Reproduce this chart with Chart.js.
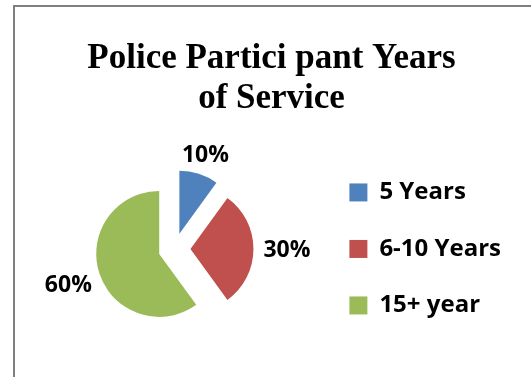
<!DOCTYPE html>
<html>
<head>
<meta charset="utf-8">
<script src="https://cdn.jsdelivr.net/npm/chart.js@4.4.0/dist/chart.umd.min.js"></script>
<style>
  html, body { margin: 0; padding: 0; background: #fff; overflow: hidden; }
  #frame {
    position: absolute; left: 13px; top: 5px; width: 530px; height: 380px;
    border-top: 2px solid #7f7f7f; border-left: 2px solid #7f7f7f;
  }
  #wrap { position: absolute; left: 0; top: 0; width: 516px; height: 370px; }
</style>
</head>
<body>
<div id="frame"><div id="wrap"><canvas id="pie-chart"></canvas></div></div>
<script>
let labels = ["5 Years", "6-10 Years", "15+ year"];
let data = [10, 30, 60];
let bgColors = ["#4F81BD", "#C0504D", "#9BBB59"];
let titleLines = ["Police Partici pant Years", "of Service"];

// pull every slice out from the centre along its middle angle
const explode = {
  id: 'explode',
  afterDatasetUpdate(chart, args, opts) {
    args.meta.data.forEach(arc => {
      const mid = (arc.startAngle + arc.endAngle) / 2;
      arc.x += Math.cos(mid) * opts.distance;
      arc.y += Math.sin(mid) * opts.distance;
    });
  }
};

// percentage labels just outside each slice
const pctLabels = {
  id: 'pctLabels',
  afterDatasetsDraw(chart, args, opts) {
    const ctx = chart.ctx;
    const meta = chart.getDatasetMeta(0);
    const values = chart.data.datasets[0].data;
    const total = values.reduce((a, b) => a + b, 0);
    ctx.save();
    ctx.font = opts.font;
    ctx.fillStyle = '#000';
    ctx.textAlign = 'center';
    ctx.textBaseline = 'middle';
    meta.data.forEach((arc, i) => {
      const text = Math.round(values[i] / total * 100) + '%';
      const mid = (arc.startAngle + arc.endAngle) / 2;
      const dx = Math.cos(mid), dy = Math.sin(mid);
      const w = ctx.measureText(text).width;
      const d = arc.outerRadius + opts.gap + Math.hypot(dx * w / 2, dy * opts.height / 2);
      ctx.fillText(text, arc.x + dx * d, arc.y + dy * d + 2);
    });
    ctx.restore();
  }
};

let ctx = document.getElementById("pie-chart").getContext("2d");
let pieChart = new Chart(ctx, {
  type: "pie",
  data: {
    labels: labels,
    datasets: [
      {
        data: data,
        backgroundColor: bgColors,
        borderWidth: 0,
        radius: 63
      }
    ]
  },
  options: {
    responsive: true,
    maintainAspectRatio: false,
    animation: false,
    layout: { padding: { left: 17, right: 20, top: 0, bottom: 4 } },
    plugins: {
      title: {
        display: true,
        text: titleLines,
        color: "#000",
        font: { family: "'Liberation Serif', 'Times New Roman', serif", size: 35, weight: "bold", lineHeight: 1.17 },
        padding: { top: 31, bottom: 5 }
      },
      legend: {
        position: "right",
        fullSize: false,
        labels: {
          color: "#000",
          boxWidth: 18,
          boxHeight: 18,
          padding: 32.5,
          font: { family: "'Open Sans', sans-serif", size: 24, weight: "bold" }
        }
      },
      tooltip: { enabled: false },
      explode: { distance: 16 },
      pctLabels: { font: "bold 23px 'Open Sans', sans-serif", gap: 10, height: 18 }
    }
  },
  plugins: [explode, pctLabels]
});
</script>
</body>
</html>
